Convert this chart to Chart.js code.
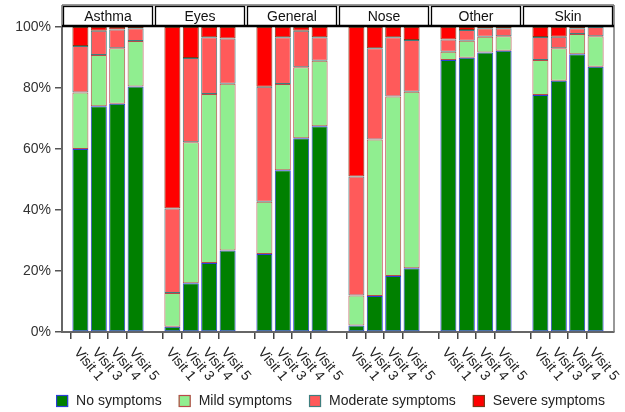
<!DOCTYPE html>
<html><head><meta charset="utf-8">
<script src="https://cdn.jsdelivr.net/npm/chart.js@4"></script>
<style>html,body{margin:0;padding:0;background:#fff}</style>
</head><body>
<canvas id="c" width="625" height="412"></canvas>
<script>
// ---- data (percent of patients) ----
const panels = ['Asthma', 'Eyes', 'General', 'Nose', 'Other', 'Skin'];
const visits = ['Visit 1', 'Visit 3', 'Visit 4', 'Visit 5'];
const yTicks = [0, 20, 40, 60, 80, 100];
// order: Asthma(V1,V3,V4,V5), Eyes, General, Nose, Other, Skin
const noSymptoms = [60.0, 74.0, 74.8, 80.5,  1.7, 16.0, 22.6, 26.7,  25.6, 53.0, 63.5, 67.5,  2.1, 11.8, 18.4, 20.9,  89.2, 89.9, 91.6, 92.2,  77.7, 82.4, 91.1, 87.0];
const mildSymptoms = [18.5, 16.8, 18.2, 14.9,  11.1, 46.2, 55.4, 54.7,  17.1, 28.3, 23.3, 21.4,  9.9, 51.3, 58.8, 57.9,  2.7, 5.6, 5.2, 4.8,  11.5, 10.6, 6.6, 10.0];
const moderateSymptoms = [15.3, 8.0, 6.2, 4.2,  27.7, 27.6, 18.6, 14.8,  37.7, 15.3, 12.0, 7.7,  39.0, 29.9, 19.4, 16.9,  4.0, 3.5, 2.8, 2.6,  7.5, 3.8, 1.9, 3.0];
const severeSymptoms = [6.2, 1.2, 0.8, 0.4,  59.5, 10.2, 3.4, 3.8,  19.6, 3.4, 1.2, 3.4,  49.0, 7.0, 3.4, 4.3,  4.1, 1.0, 0.4, 0.4,  3.3, 3.2, 0.4, 0.0];
const seriesNames = ['No symptoms', 'Mild symptoms', 'Moderate symptoms', 'Severe symptoms'];

// ---- build category slots: a blank slot before every panel and one at the end ----
const labels = [];
const slotIndex = []; // index into the 24 data values, or -1 for blanks
panels.forEach((p, pi) => {
  labels.push(''); slotIndex.push(-1);
  visits.forEach((v, vi) => { labels.push(v); slotIndex.push(pi * visits.length + vi); });
});
labels.push(''); slotIndex.push(-1);
const expand = arr => slotIndex.map(i => i < 0 ? null : arr[i]);

const styles = [
  { bg: '#008000', bd: '#2b3fd8' },
  { bg: '#90ee90', bd: '#b84a4a' },
  { bg: '#ff5a5a', bd: '#3f7f7f' },
  { bg: '#ff0000', bd: '#7a3a1a' }
];
const seriesData = [noSymptoms, mildSymptoms, moderateSymptoms, severeSymptoms];
const datasets = seriesData.map((d, k) => ({
  label: seriesNames[k],
  data: expand(d),
  backgroundColor: styles[k].bg,
  borderColor: styles[k].bd,
  borderWidth: 1,
  borderSkipped: false,
  categoryPercentage: 1.0,
  barPercentage: 0.87
}));

const FONT = '"Liberation Sans", Arial, sans-serif';

const facetPlugin = {
  id: 'facets',
  afterDraw(chart) {
    const ctx = chart.ctx;
    const xs = chart.scales.x;
    const ca = chart.chartArea;
    const stripTop = 6;
    ctx.save();
    // outer gray frame (including strip zone)
    ctx.strokeStyle = '#777';
    ctx.lineWidth = 1.5;
    ctx.beginPath();
    ctx.moveTo(ca.left, stripTop - 1); ctx.lineTo(ca.right, stripTop - 1);
    ctx.moveTo(ca.right, stripTop - 1); ctx.lineTo(ca.right, ca.bottom);
    ctx.moveTo(ca.left, stripTop - 1); ctx.lineTo(ca.left, ca.top);
    ctx.stroke();
    // strips
    panels.forEach((p, pi) => {
      const x0 = xs.getPixelForValue(pi * 5) + 1.5;
      const x1 = xs.getPixelForValue(pi * 5 + 5) - 1.5;
      ctx.fillStyle = '#fff';
      ctx.fillRect(x0, stripTop, x1 - x0, ca.top - stripTop - 1);
      ctx.strokeStyle = '#000';
      ctx.lineWidth = 1.3;
      ctx.strokeRect(x0, stripTop + 0.5, x1 - x0, ca.top - stripTop - 1.5);
      ctx.fillStyle = '#111';
      ctx.font = '14px ' + FONT;
      ctx.textAlign = 'center';
      ctx.textBaseline = 'middle';
      ctx.fillText(p, (x0 + x1) / 2, (stripTop + ca.top) / 2 + 0.5);
    });
    ctx.strokeStyle = '#000';
    ctx.lineWidth = 2.5;
    ctx.beginPath();
    ctx.moveTo(ca.left, ca.top - 1); ctx.lineTo(ca.right, ca.top - 1);
    ctx.stroke();
    // rotated visit labels
    ctx.fillStyle = '#222';
    ctx.font = '14px ' + FONT;
    ctx.textAlign = 'left';
    ctx.textBaseline = 'middle';
    labels.forEach((lab, i) => {
      if (!lab) return;
      const x = xs.getPixelForValue(i);
      ctx.save();
      ctx.translate(x - 4, ca.bottom + 18);
      ctx.rotate(50 * Math.PI / 180);
      ctx.fillText(lab, 0, 0);
      ctx.restore();
    });
    // legend
    ctx.font = '14px ' + FONT;
    const box = 12, boxGap = 8, itemGap = 17;
    const widths = chart.data.datasets.map(ds => box + boxGap + ctx.measureText(ds.label).width);
    const total = widths.reduce((a, b) => a + b, 0) + itemGap * (widths.length - 1);
    let lx = 330.5 - total / 2;
    const ly = 401;
    chart.data.datasets.forEach((ds, k) => {
      ctx.fillStyle = ds.backgroundColor;
      ctx.fillRect(lx, ly - box / 2, box, box);
      ctx.strokeStyle = ds.borderColor;
      ctx.lineWidth = 1.2;
      ctx.strokeRect(lx + 0.5, ly - box / 2 + 0.5, box - 1, box - 1);
      ctx.fillStyle = '#222';
      ctx.textAlign = 'left';
      ctx.textBaseline = 'middle';
      ctx.fillText(ds.label, lx + box + boxGap, ly + 0.5);
      lx += widths[k] + itemGap;
    });
    ctx.restore();
  }
};

new Chart(document.getElementById('c'), {
  type: 'bar',
  data: { labels, datasets },
  plugins: [facetPlugin],
  options: {
    responsive: false,
    animation: false,
    devicePixelRatio: 1,
    layout: { padding: { left: 0, right: 11, top: 27, bottom: 0 } },
    plugins: {
      tooltip: { enabled: false },
      legend: { display: false }
    },
    scales: {
      x: {
        type: 'category',
        stacked: true,
        offset: false,
        afterFit(s) { s.height = 80; },
        ticks: { display: false, autoSkip: false },
        grid: {
          display: true, drawOnChartArea: false, drawTicks: true, tickLength: 7,
          lineWidth: 1.5,
          tickColor: c => (c.index % 5 === 0) ? 'rgba(0,0,0,0)' : '#444'
        },
        border: { display: true, color: '#666', width: 2 }
      },
      y: {
        stacked: true,
        min: 0, max: 100,
        afterFit(s) { s.width = 62; },
        afterBuildTicks(s) { s.ticks = yTicks.map(v => ({ value: v })); },
        ticks: {
          padding: 4,
          color: '#333',
          font: { family: FONT, size: 14 },
          callback: v => v + '%'
        },
        grid: { display: true, drawOnChartArea: false, drawTicks: true, tickLength: 7, color: '#555', lineWidth: 1.5 },
        border: { display: true, color: '#666', width: 2 }
      }
    }
  }
});
</script>
</body></html>
